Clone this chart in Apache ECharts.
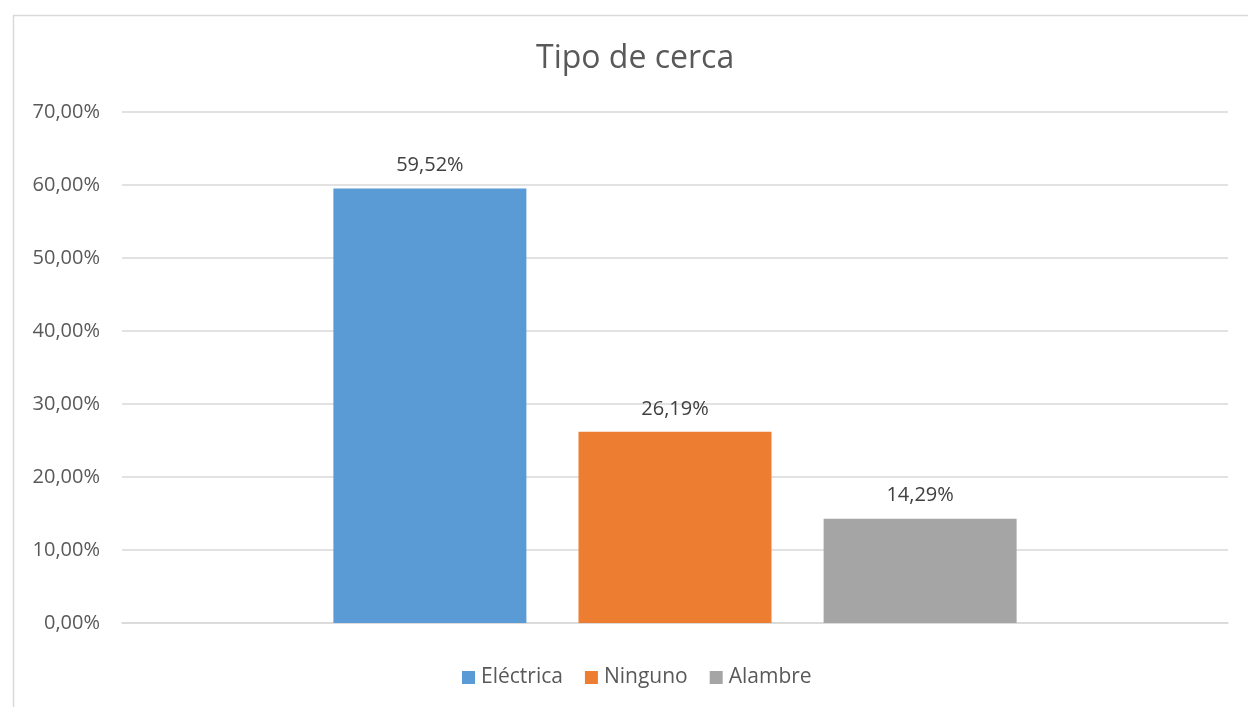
<!DOCTYPE html>
<html><head><meta charset="utf-8">
<script src="https://cdn.jsdelivr.net/npm/echarts@6/dist/echarts.min.js"></script>
<style>html,body{margin:0;padding:0;background:#fff}#c{width:1248px;height:707px}</style>
</head><body><div id="c"></div>
<script>
const title = 'Tipo de cerca';
const categories = [''];
const seriesNames = ['Eléctrica', 'Ninguno', 'Alambre'];
const seriesValues = [[59.52], [26.19], [14.29]];
const seriesColors = ['#5B9BD5', '#ED7D31', '#A5A5A5'];
const yTicks = [0, 10, 20, 30, 40, 50, 60, 70];

const fmt = v => v.toFixed(2).replace('.', ',') + '%';
const font = 'Open Sans';
const chart = echarts.init(document.getElementById('c'));
chart.setOption({
  animation: false,
  backgroundColor: '#fff',
  graphic: [{type: 'rect', left: 11, top: 13, shape: {width: 1250, height: 700}, style: {fill: 'none', stroke: '#D9D9D9', lineWidth: 1.5}, silent: true}],
  title: {text: title, left: 531, top: 38, textStyle: {fontFamily: font, fontWeight: 'normal', fontSize: 32, color: '#595959'}},
  legend: {bottom: 14, left: 457, itemWidth: 13, itemHeight: 13, itemGap: 22, icon: 'rect',
    textStyle: {fontFamily: font, fontSize: 21, color: '#595959', padding: [0,0,0,1]}},
  grid: {left: 122, right: 20, top: 112, bottom: 84},
  xAxis: {type: 'category', data: categories, axisLine: {lineStyle: {color: '#D9D9D9', width: 1.5}}, axisTick: {show: false}, axisLabel: {show: false}},
  yAxis: {type: 'value', min: yTicks[0], max: yTicks[yTicks.length-1], interval: 10,
    axisLine: {show: false}, axisTick: {show: false},
    axisLabel: {formatter: v => fmt(v), fontFamily: font, fontSize: 20, color: '#595959', margin: 22},
    splitLine: {lineStyle: {color: '#D9D9D9', width: 1.5}}},
  series: seriesNames.map((n, i) => ({
    name: n, type: 'bar', data: seriesValues[i], barWidth: 193, barGap: '27%',
    itemStyle: {color: seriesColors[i]},
    label: {show: true, position: 'top', distance: 13, formatter: p => fmt(p.value), fontFamily: font, fontSize: 20, color: '#404040'}
  }))
});
</script></body></html>
